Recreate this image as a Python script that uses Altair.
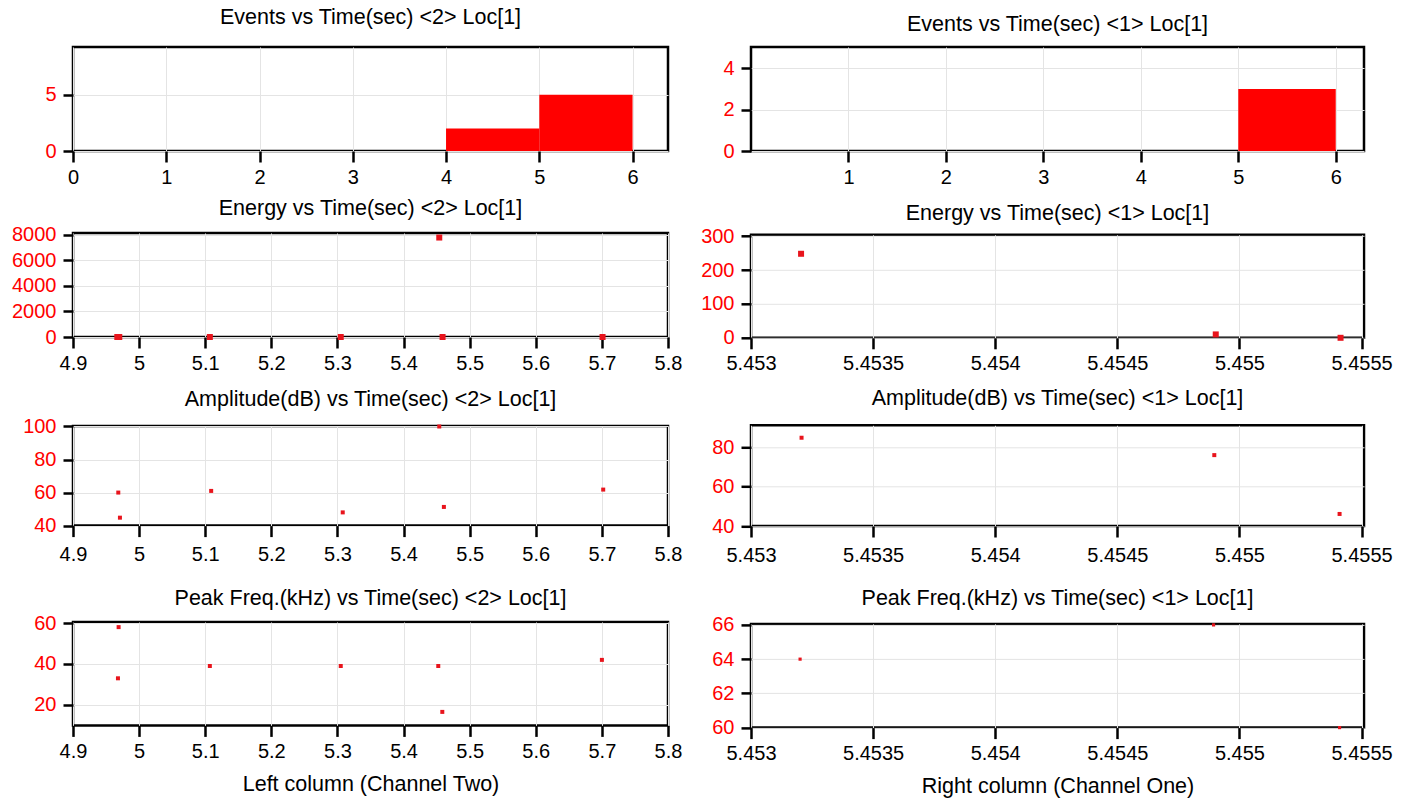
import altair as alt
import pandas as pd

# ---------------- data ----------------
# Events histograms (bin start, count) – bins are 1 s wide
ev_bins_left = [0, 1, 2, 3, 4, 5]
ev_counts_left = [0, 0, 0, 0, 2, 5]
ev_bins_right = [0, 1, 2, 3, 4, 5]
ev_counts_right = [0, 0, 0, 0, 0, 3]

# Left column (Channel Two)
en_t_left = [4.967, 4.970, 5.107, 5.305, 5.454, 5.459, 5.701]
en_v_left = [0, 0, 0, 0, 7770, 0, 0]
amp_t_left = [4.9685, 4.971, 5.109, 5.308, 5.454, 5.461, 5.702]
amp_v_left = [60, 44.8, 61, 48, 100, 51.3, 61.8]
pf_t_left = [4.969, 4.968, 5.107, 5.305, 5.4525, 5.4586, 5.700]
pf_v_left = [58, 33, 39, 39, 39, 16.6, 42]

# Right column (Channel One)
en_t_right = [5.453205, 5.454903, 5.455414]
en_v_right = [248, 10, 0]
amp_t_right = [5.453207, 5.454897, 5.455410]
amp_v_right = [84.7, 75.9, 46.1]
pf_t_right = [5.453201, 5.454894, 5.455410]
pf_v_right = [64, 66, 60]

# tick values
ev_x_left_ticks = [0, 1, 2, 3, 4, 5, 6]
ev_x_right_ticks = [1, 2, 3, 4, 5, 6]
ev_y_left_ticks = [0, 5]
ev_y_right_ticks = [0, 2, 4]
t_left_ticks = [4.9, 5.0, 5.1, 5.2, 5.3, 5.4, 5.5, 5.6, 5.7, 5.8]
t_right_ticks = [5.453, 5.4535, 5.454, 5.4545, 5.455, 5.4555]
en_y_left_ticks = [0, 2000, 4000, 6000, 8000]
en_y_right_ticks = [0, 100, 200, 300]
amp_y_left_ticks = [40, 60, 80, 100]
amp_y_right_ticks = [40, 60, 80]
pf_y_left_ticks = [20, 40, 60]
pf_y_right_ticks = [60, 62, 64, 66]

BAR = "#ff0000"
PT = "#e8141c"
FONT = "Liberation Sans"
FMT = "~r"

LW, RW = 595, 613


def events(bins, counts, ttl, xdom, xticks, ydom, yticks, w, h, toff):
    df = pd.DataFrame({"b0": bins, "b1": [b + 1 for b in bins], "c": counts})
    return alt.Chart(df, title=alt.TitleParams(ttl, offset=toff)).mark_rect(color=BAR).encode(
        x=alt.X("b0:Q", scale=alt.Scale(domain=xdom, nice=False, zero=False),
                axis=alt.Axis(values=xticks, format=FMT, title=None)),
        x2="b1:Q",
        y=alt.Y("c:Q", scale=alt.Scale(domain=ydom, nice=False),
                axis=alt.Axis(values=yticks, format=FMT, title=None)),
        y2=alt.datum(0),
    ).properties(width=w, height=h)


def scatter(t, v, ttl, xdom, xticks, ydom, yticks, w, h, toff, size,
            lpad=5, xtitle=None):
    df = pd.DataFrame({"t": t, "v": v})
    xaxis = dict(values=xticks, format=FMT, labelPadding=lpad)
    if xtitle:
        xaxis.update(title=xtitle, titlePadding=12)
    else:
        xaxis.update(title=None)
    return alt.Chart(df, title=alt.TitleParams(ttl, offset=toff)).mark_square(
        size=size, color=PT, opacity=1).encode(
        x=alt.X("t:Q", scale=alt.Scale(domain=xdom, nice=False, zero=False),
                axis=alt.Axis(**xaxis)),
        y=alt.Y("v:Q", scale=alt.Scale(domain=ydom, nice=False, zero=False),
                axis=alt.Axis(values=yticks, format=FMT, title=None)),
    ).properties(width=w, height=h)


L1 = events(ev_bins_left, ev_counts_left, "Events vs Time(sec) <2> Loc[1]",
            [0, 6.38], ev_x_left_ticks, [0, 9.24], ev_y_left_ticks, LW, 104, 19)
L2 = scatter(en_t_left, en_v_left, "Energy vs Time(sec) <2> Loc[1]",
             [4.9, 5.8], t_left_ticks, [0, 8125], en_y_left_ticks, LW, 104, 5.3, 36)
L3 = scatter(amp_t_left, amp_v_left, "Amplitude(dB) vs Time(sec) <2> Loc[1]",
             [4.9, 5.8], t_left_ticks, [40, 100.3], amp_y_left_ticks, LW, 99.6, 6.2, 16, lpad=8)
L4 = scatter(pf_t_left, pf_v_left, "Peak Freq.(kHz) vs Time(sec) <2> Loc[1]",
             [4.9, 5.8], t_left_ticks, [10, 60.5], pf_y_left_ticks, LW, 103.4, 3.8, 16,
             xtitle="Left column (Channel Two)")

R1 = events(ev_bins_right, ev_counts_right, "Events vs Time(sec) <1> Loc[1]",
            [0, 6.29], ev_x_right_ticks, [0, 5.04], ev_y_right_ticks, RW, 104, 11.5)
R2 = scatter(en_t_right, en_v_right, "Energy vs Time(sec) <1> Loc[1]",
             [5.453, 5.45551], t_right_ticks, [0, 304], en_y_right_ticks, RW, 103, 1.8, 36)
R3 = scatter(amp_t_right, amp_v_right, "Amplitude(dB) vs Time(sec) <1> Loc[1]",
             [5.453, 5.45551], t_right_ticks, [40, 91], amp_y_right_ticks, RW, 100.7, 16, 16, lpad=8)
R4 = scatter(pf_t_right, pf_v_right, "Peak Freq.(kHz) vs Time(sec) <1> Loc[1]",
             [5.453, 5.45551], t_right_ticks, [60, 66.06], pf_y_right_ticks, RW, 103.7, 5.8, 10,
             xtitle="Right column (Channel One)")

left = alt.vconcat(
    L1, alt.vconcat(L2, alt.vconcat(L3, L4, spacing=20), spacing=12), spacing=7)
right = alt.vconcat(
    R1, alt.vconcat(R2, alt.vconcat(R3, R4, spacing=19.6), spacing=10.5), spacing=11.8)

chart = alt.hconcat(left, right, spacing=15).properties(
    padding={"left": 10, "top": 5, "right": 5, "bottom": 0},
    background="white",
).configure_view(
    stroke="black", strokeWidth=2.5
).configure_axis(
    labelFont=FONT, labelFontSize=20, labelColor="black",
    titleFont=FONT, titleFontSize=21.5, titleFontWeight="normal", titleColor="black",
    tickColor="black", tickWidth=2.5, tickSize=10, domain=False,
    gridColor="#e4e4e4", gridWidth=1, labelOverlap=False, labelBound=False,
).configure_axisX(
    labelFlush=False, tickSize=11, labelPadding=5,
).configure_axisY(
    labelColor="#ff0000", labelPadding=7,
).configure_title(
    font=FONT, fontSize=21.5, fontWeight="normal", color="black", anchor="middle",
)

chart.save("out.html", embed_options={"renderer": "svg", "actions": False})
